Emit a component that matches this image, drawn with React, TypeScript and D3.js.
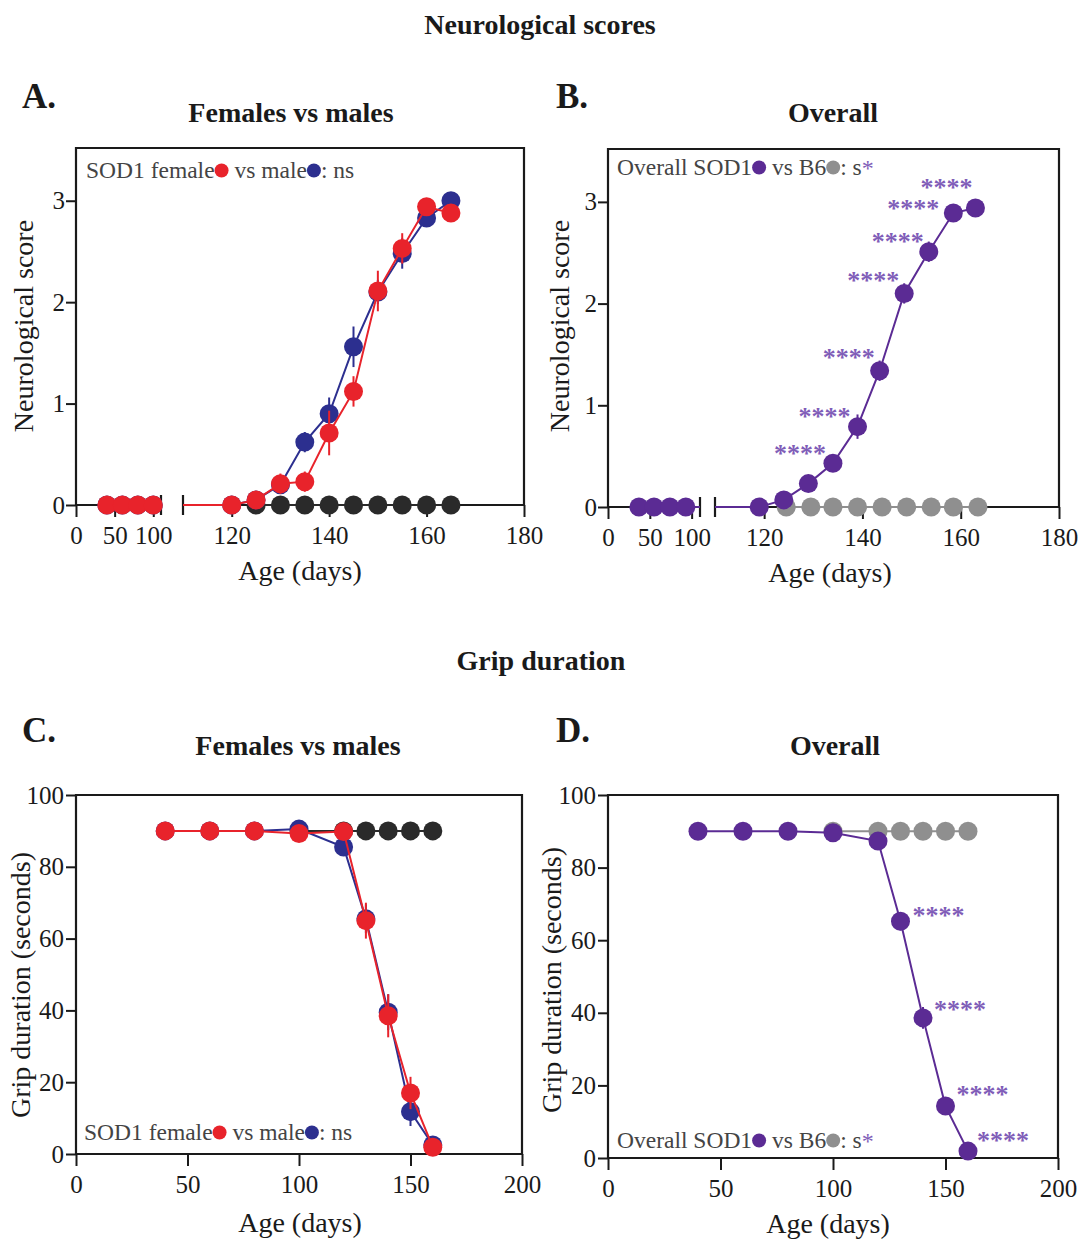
import React, { useEffect, useRef } from "react";
import * as d3 from "d3";

const FONT = "'Liberation Serif', 'Times New Roman', Times, serif";

const RED = "#e8232b";
const BLUE = "#2c2f8f";
const BLACK = "#2a2a2a";
const PURPLE = "#5b2b94";
const GRAY = "#8f8f8f";
const STAR = "#7f5db8";
const INK = "#1a1a1a";
const LEGEND_INK = "#444";

// A. neurological score, SOD1 females vs males (B6 controls in black)
const neuroAge = [40, 60, 80, 100, 120, 125, 130, 135, 140, 145, 150, 155, 160, 165];
const neuroFemale = [0, 0, 0, 0, 0, 0.05, 0.21, 0.23, 0.71, 1.12, 2.11, 2.53, 2.94, 2.88];
const neuroFemaleErr = [0, 0, 0, 0, 0, 0.03, 0.1, 0.1, 0.22, 0.15, 0.2, 0.15, 0.05, 0.05];
const neuroMale = [0, 0, 0, 0, 0, 0.05, 0.2, 0.62, 0.9, 1.56, 2.1, 2.48, 2.83, 3.0];
const neuroMaleErr = [0, 0, 0, 0, 0, 0.03, 0.08, 0.1, 0.16, 0.2, 0.12, 0.15, 0.05, 0.03];
const neuroB6Age = [125, 130, 135, 140, 145, 150, 155, 160, 165];
const neuroB6 = [0, 0, 0, 0, 0, 0, 0, 0, 0];

// B. neurological score, overall SOD1 vs B6
const overallAge = [37, 55, 74, 93, 119, 124, 129, 134, 139, 143.5, 148.5, 153.5, 158.5, 163];
const overallSod = [0, 0, 0, 0, 0, 0.07, 0.23, 0.43, 0.79, 1.34, 2.1, 2.51, 2.89, 2.94];
const overallSodErr = [0, 0, 0, 0, 0, 0.03, 0.05, 0.06, 0.12, 0.1, 0.1, 0.1, 0.04, 0.04];
const overallB6Age = [124.5, 129.5, 134, 139, 144, 149, 154, 158.5, 163.5];
const overallB6 = [0, 0, 0, 0, 0, 0, 0, 0, 0];
const overallStars = [7, 8, 9, 10, 11, 12, 13];

// C. grip duration, females vs males
const gripAge = [40, 60, 80, 100, 120, 130, 140, 150, 160];
const gripFemale = [90, 90, 90, 89.3, 89.8, 65, 38.5, 17, 1.9];
const gripFemaleErr = [0, 0, 0, 0.5, 0.5, 5, 6, 4.5, 0.5];
const gripMale = [90, 90, 90, 90.5, 85.5, 65.5, 39.5, 11.8, 2.5];
const gripMaleErr = [0, 0, 0, 0.5, 1.5, 4, 5, 4, 0.5];
const gripB6Age = [100, 120, 130, 140, 150, 160];
const gripB6 = [90, 90, 90, 90, 90, 90];

// D. grip duration, overall
const gripSod = [90, 90, 90, 89.6, 87.3, 65.2, 38.6, 14.3, 1.9];
const gripSodErr = [0, 0, 0, 0.5, 1, 2.5, 3, 2, 0.5];
const gripStars = [5, 6, 7, 8];

const neuroTicks = [0, 1, 2, 3];
const seg1Ticks = [0, 50, 100];
const seg2Ticks = [120, 140, 160, 180];
const gripYTicks = [0, 20, 40, 60, 80, 100];
const gripXTicks = [0, 50, 100, 150, 200];

type Sel = d3.Selection<SVGGElement, unknown, null, undefined>;

function series(
  g: Sel,
  xs: number[],
  ys: number[],
  errs: number[] | null,
  xf: (v: number) => number,
  y: d3.ScaleLinear<number, number>,
  color: string,
  clip?: string
) {
  const pts = ys.map((v, i) => ({ x: xs[i], v, e: errs ? errs[i] : 0 }));
  const line = d3
    .line<{ x: number; v: number }>()
    .x((d) => xf(d.x))
    .y((d) => y(d.v));
  g.append("path")
    .attr("d", line(pts))
    .attr("fill", "none")
    .attr("stroke", color)
    .attr("stroke-width", 2)
    .attr("clip-path", clip ? `url(#${clip})` : null);
  g.selectAll(null)
    .data(pts.filter((d) => d.e > 0))
    .join("line")
    .attr("x1", (d) => xf(d.x))
    .attr("x2", (d) => xf(d.x))
    .attr("y1", (d) => y(d.v - d.e))
    .attr("y2", (d) => y(d.v + d.e))
    .attr("stroke", color)
    .attr("stroke-width", 2);
  g.selectAll(null)
    .data(pts)
    .join("circle")
    .attr("cx", (d) => xf(d.x))
    .attr("cy", (d) => y(d.v))
    .attr("r", 9.5)
    .attr("fill", color);
}

function styleAxis(a: Sel, size: number) {
  a.select(".domain").remove();
  a.selectAll(".tick line").attr("stroke", INK).attr("stroke-width", 2);
  a.selectAll(".tick text")
    .attr("fill", INK)
    .style("font-family", FONT)
    .style("font-size", `${size}px`);
}

function text(
  g: Sel,
  x: number,
  y: number,
  str: string,
  size: number,
  opts: { bold?: boolean; anchor?: string; rotate?: boolean; fill?: string } = {}
) {
  const t = g
    .append("text")
    .attr("x", x)
    .attr("y", y)
    .attr("text-anchor", opts.anchor || "middle")
    .attr("fill", opts.fill || INK)
    .style("font-family", FONT)
    .style("font-size", `${size}px`)
    .style("font-weight", opts.bold ? "bold" : "normal")
    .text(str);
  if (opts.rotate) t.attr("transform", `rotate(-90, ${x}, ${y})`);
  return t;
}

type Part = string | { dot: string } | { star: string };

function legend(g: Sel, x: number, y: number, parts: Part[]) {
  let cx = x;
  parts.forEach((p) => {
    if (typeof p === "string") {
      const t = g
        .append("text")
        .attr("x", cx)
        .attr("y", y)
        .attr("fill", LEGEND_INK)
        .style("font-family", FONT)
        .style("font-size", "23.5px")
        .style("white-space", "pre")
        .text(p);
      cx += (t.node() as SVGTextElement).getComputedTextLength();
    } else if ("dot" in p) {
      g.append("circle").attr("cx", cx + 7).attr("cy", y - 7.5).attr("r", 7).attr("fill", p.dot);
      cx += 14;
    } else {
      g.append("text")
        .attr("x", cx)
        .attr("y", y + 1)
        .attr("fill", p.star)
        .style("font-family", FONT)
        .style("font-size", "24px")
        .text("*");
    }
  });
}

function stars(
  g: Sel,
  idx: number[],
  xs: number[],
  ys: number[],
  xf: (v: number) => number,
  y: d3.ScaleLinear<number, number>,
  nudge: number[][],
  anchor: string
) {
  g.selectAll(null)
    .data(idx)
    .join("text")
    .attr("x", (d, i) => xf(xs[d]) + nudge[i][0])
    .attr("y", (d, i) => y(ys[d]) + nudge[i][1] + 12)
    .attr("text-anchor", anchor)
    .attr("fill", STAR)
    .style("font-family", FONT)
    .style("font-size", "26px")
    .style("font-weight", "bold")
    .text("****");
}

type Box = { left: number; right: number; top: number; bottom: number };

function brokenPanel(
  svg: Sel,
  id: string,
  b: Box & { seg1End: number; seg2Start: number },
  draw: (g: Sel, xf: (v: number) => number, y: d3.ScaleLinear<number, number>) => void
) {
  const g = svg.append("g");
  const s1 = d3.scaleLinear().domain([0, 110]).range([b.left, b.seg1End]);
  const s2 = d3.scaleLinear().domain([110, 180]).range([b.seg2Start, b.right]);
  const xf = (v: number) => (v <= 110 ? s1(v) : s2(v));
  const y = d3.scaleLinear().domain([0, 3.52]).range([b.bottom, b.top]);

  const cp = g.append("clipPath").attr("id", id);
  cp.append("rect").attr("x", b.left - 30).attr("y", b.top - 40).attr("width", b.seg1End - b.left + 30).attr("height", b.bottom - b.top + 80);
  cp.append("rect").attr("x", b.seg2Start).attr("y", b.top - 40).attr("width", b.right - b.seg2Start + 30).attr("height", b.bottom - b.top + 80);

  // frame with the broken x axis
  const frame = g.append("g").attr("stroke", INK).attr("stroke-width", 2.2).attr("fill", "none");
  frame.append("path").attr("d", `M${b.left},${b.bottom}V${b.top}H${b.right}V${b.bottom}`);
  frame.append("path").attr("d", `M${b.left},${b.bottom}H${b.seg1End}`);
  frame.append("path").attr("d", `M${b.seg2Start},${b.bottom}H${b.right}`);
  frame.append("path").attr("d", `M${b.seg1End},${b.bottom - 10}V${b.bottom + 10}`);
  frame.append("path").attr("d", `M${b.seg2Start},${b.bottom - 10}V${b.bottom + 10}`);

  const ax1 = g.append("g").attr("transform", `translate(0,${b.bottom})`)
    .call(d3.axisBottom(s1).tickValues(seg1Ticks).tickSize(12).tickPadding(9).tickFormat(d3.format("d")));
  styleAxis(ax1, 25);
  const ax2 = g.append("g").attr("transform", `translate(0,${b.bottom})`)
    .call(d3.axisBottom(s2).tickValues(seg2Ticks).tickSize(12).tickPadding(9).tickFormat(d3.format("d")));
  styleAxis(ax2, 25);
  const ay = g.append("g").attr("transform", `translate(${b.left},0)`)
    .call(d3.axisLeft(y).tickValues(neuroTicks).tickSize(10).tickPadding(1).tickFormat(d3.format("d")));
  styleAxis(ay, 25);

  draw(g, xf, y);
}

function linearPanel(
  svg: Sel,
  b: Box,
  draw: (g: Sel, xf: (v: number) => number, y: d3.ScaleLinear<number, number>) => void
) {
  const g = svg.append("g");
  const x = d3.scaleLinear().domain([0, 200]).range([b.left, b.right]);
  const y = d3.scaleLinear().domain([0, 100]).range([b.bottom, b.top]);
  g.append("path")
    .attr("d", `M${b.left},${b.bottom}V${b.top}H${b.right}V${b.bottom}Z`)
    .attr("fill", "none")
    .attr("stroke", INK)
    .attr("stroke-width", 2.2);
  const ax = g.append("g").attr("transform", `translate(0,${b.bottom})`)
    .call(d3.axisBottom(x).tickValues(gripXTicks).tickSize(12).tickPadding(9).tickFormat(d3.format("d")));
  styleAxis(ax, 25);
  const ay = g.append("g").attr("transform", `translate(${b.left},0)`)
    .call(d3.axisLeft(y).tickValues(gripYTicks).tickSize(10).tickPadding(2).tickFormat(d3.format("d")));
  styleAxis(ay, 25);
  draw(g, (v) => x(v), y);
}

const App = () => {
  const ref = useRef<SVGSVGElement>(null);

  useEffect(() => {
    const svg = d3.select(ref.current) as unknown as Sel;
    svg.selectAll("*").remove();
    const root = svg.append("g");

    // headings
    text(root, 540, 34, "Neurological scores", 28, { bold: true });
    text(root, 541, 670, "Grip duration", 28, { bold: true });
    text(root, 22, 108, "A.", 35, { bold: true, anchor: "start" });
    text(root, 556, 108, "B.", 35, { bold: true, anchor: "start" });
    text(root, 22, 742, "C.", 35, { bold: true, anchor: "start" });
    text(root, 556, 742, "D.", 35, { bold: true, anchor: "start" });
    text(root, 291, 122, "Females vs males", 28, { bold: true });
    text(root, 833, 122, "Overall", 28, { bold: true });
    text(root, 298, 755, "Females vs males", 28, { bold: true });
    text(root, 835, 755, "Overall", 28, { bold: true });

    // A
    brokenPanel(root, "clipA", { left: 76, right: 524, top: 148, bottom: 505, seg1End: 161, seg2Start: 183 }, (g, xf, y) => {
      series(g, neuroB6Age, neuroB6, null, xf, y, BLACK, "clipA");
      series(g, neuroAge, neuroMale, neuroMaleErr, xf, y, BLUE, "clipA");
      series(g, neuroAge, neuroFemale, neuroFemaleErr, xf, y, RED, "clipA");
    });
    legend(root, 86, 178, ["SOD1 female", { dot: RED }, " vs male", { dot: BLUE }, ": ns"]);
    text(root, 300, 580, "Age (days)", 28);
    text(root, 33, 326, "Neurological score", 28, { rotate: true });

    // B
    brokenPanel(root, "clipB", { left: 608, right: 1059, top: 149, bottom: 507, seg1End: 700, seg2Start: 715 }, (g, xf, y) => {
      series(g, overallB6Age, overallB6, null, xf, y, GRAY, "clipB");
      series(g, overallAge, overallSod, overallSodErr, xf, y, PURPLE, "clipB");
      stars(g, overallStars, overallAge, overallSod, xf, y,
        [[-7, -13], [-7, -14], [-5, -17], [-5, -16], [-5, -14], [-14, -8], [-3, -24]], "end");
    });
    legend(root, 617, 175, ["Overall SOD1", { dot: PURPLE }, " vs B6", { dot: GRAY }, ": s", { star: STAR }]);
    text(root, 830, 582, "Age (days)", 28);
    text(root, 569, 326, "Neurological score", 28, { rotate: true });

    // C
    linearPanel(root, { left: 76, right: 522, top: 795, bottom: 1154 }, (g, xf, y) => {
      series(g, gripB6Age, gripB6, null, xf, y, BLACK);
      series(g, gripAge, gripMale, gripMaleErr, xf, y, BLUE);
      series(g, gripAge, gripFemale, gripFemaleErr, xf, y, RED);
    });
    legend(root, 84, 1140, ["SOD1 female", { dot: RED }, " vs male", { dot: BLUE }, ": ns"]);
    text(root, 300, 1232, "Age (days)", 28);
    text(root, 30, 985, "Grip duration (seconds)", 28, { rotate: true });

    // D
    linearPanel(root, { left: 608, right: 1058, top: 795, bottom: 1158 }, (g, xf, y) => {
      series(g, gripB6Age, gripB6, null, xf, y, GRAY);
      series(g, gripAge, gripSod, gripSodErr, xf, y, PURPLE);
      stars(g, gripStars, gripAge, gripSod, xf, y, [[12, -9], [11, -12], [11, -15], [9, -14]], "start");
    });
    legend(root, 617, 1148, ["Overall SOD1", { dot: PURPLE }, " vs B6", { dot: GRAY }, ": s", { star: STAR }]);
    text(root, 828, 1233, "Age (days)", 28);
    text(root, 561, 980, "Grip duration (seconds)", 28, { rotate: true });
  }, []);

  return (
    <svg
      ref={ref}
      width={1081}
      height={1245}
      viewBox="0 0 1081 1245"
      style={{ position: "absolute", left: 0, top: 0, background: "#fff" }}
    />
  );
};

export default App;
